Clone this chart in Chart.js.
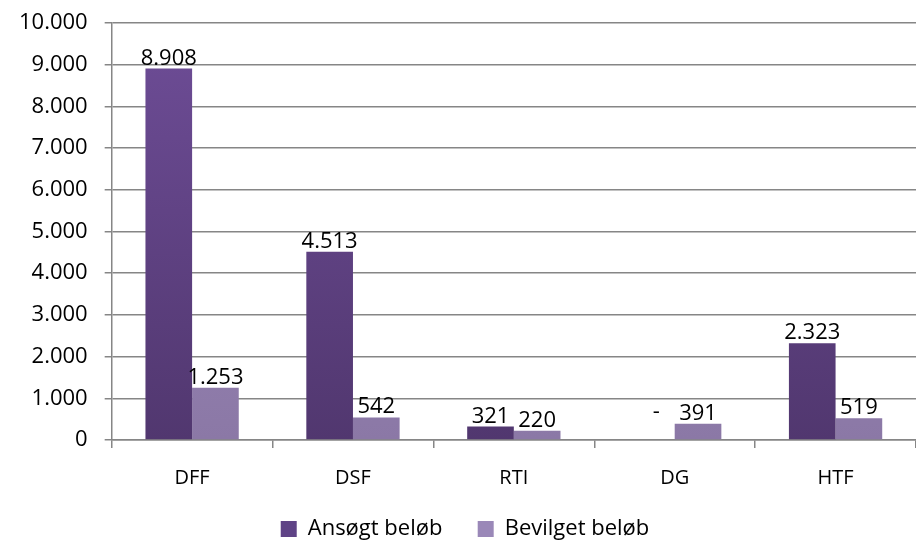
<!DOCTYPE html>
<html>
<head>
<meta charset="utf-8">
<script src="https://cdn.jsdelivr.net/npm/chart.js@4"></script>
<style>
  html, body { margin: 0; padding: 0; background: #fff; }
  #wrap { width: 916px; height: 540px; }
</style>
</head>
<body>
<div id="wrap"><canvas id="fundChart"></canvas></div>
<script>
var categories = ['DFF', 'DSF', 'RTI', 'DG', 'HTF'];
var ansoegt = [8908, 4513, 321, 0, 2323];
var bevilget = [1253, 542, 220, 391, 519];
var yTicks = [0, 1000, 2000, 3000, 4000, 5000, 6000, 7000, 8000, 9000, 10000];

var FONT = '"Open Sans", sans-serif';

function fmtTick(v) {
    return String(v).replace(/\B(?=(\d{3})+(?!\d))/g, '.');
}
function fmt(v) {
    // zero is shown as a dash, like the accounting format
    if (v === 0) return '-';
    return fmtTick(v);
}

function makeGradient(top, bottom) {
    return function(context) {
        var chart = context.chart;
        var area = chart.chartArea;
        if (!area) return bottom;
        var el = context.element;
        var y0 = el && el.y !== undefined ? el.y : area.top;
        var y1 = el && el.base !== undefined ? el.base : area.bottom;
        if (!isFinite(y0) || !isFinite(y1) || y0 === y1) return bottom;
        var g = chart.ctx.createLinearGradient(0, y0, 0, y1);
        g.addColorStop(0, top);
        g.addColorStop(1, bottom);
        return g;
    };
}

// value text above each bar
var valueLabels = {
    id: 'valueLabels',
    afterDatasetsDraw: function(chart) {
        var ctx = chart.ctx;
        ctx.save();
        ctx.font = '22px ' + FONT;
        ctx.fillStyle = '#000';
        ctx.textAlign = 'center';
        ctx.textBaseline = 'alphabetic';
        chart.data.datasets.forEach(function(ds, i) {
            var meta = chart.getDatasetMeta(i);
            meta.data.forEach(function(bar, j) {
                var v = ds.data[j];
                if (v === 0) {
                    ctx.fillText(fmt(v), bar.x + 5, bar.y - 22);
                } else {
                    ctx.fillText(fmt(v), bar.x, bar.y - 4);
                }
            });
        });
        ctx.restore();
    }
};

// nudge the legend a bit lower/right, closer to the bottom edge
var legendNudge = {
    id: 'legendNudge',
    afterLayout: function(chart) {
        var lg = chart.legend;
        if (!lg) return;
        lg.top += 10;
        lg.bottom += 10;
        lg.left += 6;
        lg.right += 6;
    }
};

var fundChart = new Chart(document.getElementById('fundChart'), {
    type: 'bar',
    data: {
        labels: categories,
        datasets: [{
            label: 'Ansøgt beløb',
            data: ansoegt,
            backgroundColor: makeGradient('#6e4d97', '#51376f')
        }, {
            label: 'Bevilget beløb',
            data: bevilget,
            backgroundColor: makeGradient('#a18ebf', '#8b78a6')
        }]
    },
    options: {
        responsive: true,
        maintainAspectRatio: false,
        animation: false,
        layout: { padding: { top: 0, right: 0, left: 2, bottom: 0 } },
        datasets: {
            bar: { categoryPercentage: 0.58, barPercentage: 1.0 }
        },
        plugins: {
            legend: {
                position: 'bottom',
                labels: {
                    font: { family: FONT, size: 22 },
                    color: '#000',
                    boxWidth: 16,
                    boxHeight: 16,
                    padding: 1,
                    generateLabels: function(chart) {
                        var cols = ['#5f4386', '#9a88b8'];
                        return chart.data.datasets.map(function(ds, i) {
                            // trailing spaces keep the gap between the two items
                            var txt = i === 0 ? ds.label + '      ' : ds.label;
                            return {
                                text: txt,
                                fillStyle: cols[i],
                                strokeStyle: cols[i],
                                lineWidth: 0,
                                datasetIndex: i
                            };
                        });
                    }
                }
            },
            tooltip: { enabled: false }
        },
        scales: {
            x: {
                afterFit: function(axis) { axis.height = 67; },
                grid: {
                    display: true,
                    drawOnChartArea: false,
                    drawTicks: true,
                    tickLength: 8,
                    color: '#868686',
                    lineWidth: 1.5,
                    offset: true
                },
                border: { color: '#868686', width: 1.5 },
                ticks: {
                    font: { family: FONT, size: 20 },
                    color: '#000',
                    padding: 18
                }
            },
            y: {
                min: 0,
                max: 10000,
                afterBuildTicks: function(axis) {
                    axis.ticks = yTicks.map(function(v) { return { value: v }; });
                },
                afterFit: function(axis) { axis.paddingTop = 23; },
                grid: {
                    color: '#868686',
                    lineWidth: 1.5,
                    tickLength: 7
                },
                border: { color: '#868686', width: 1.5 },
                ticks: {
                    font: { family: FONT, size: 22 },
                    color: '#000',
                    padding: 17,
                    callback: function(v) { return fmtTick(v); }
                }
            }
        }
    },
    plugins: [valueLabels, legendNudge]
});
</script>
</body>
</html>
